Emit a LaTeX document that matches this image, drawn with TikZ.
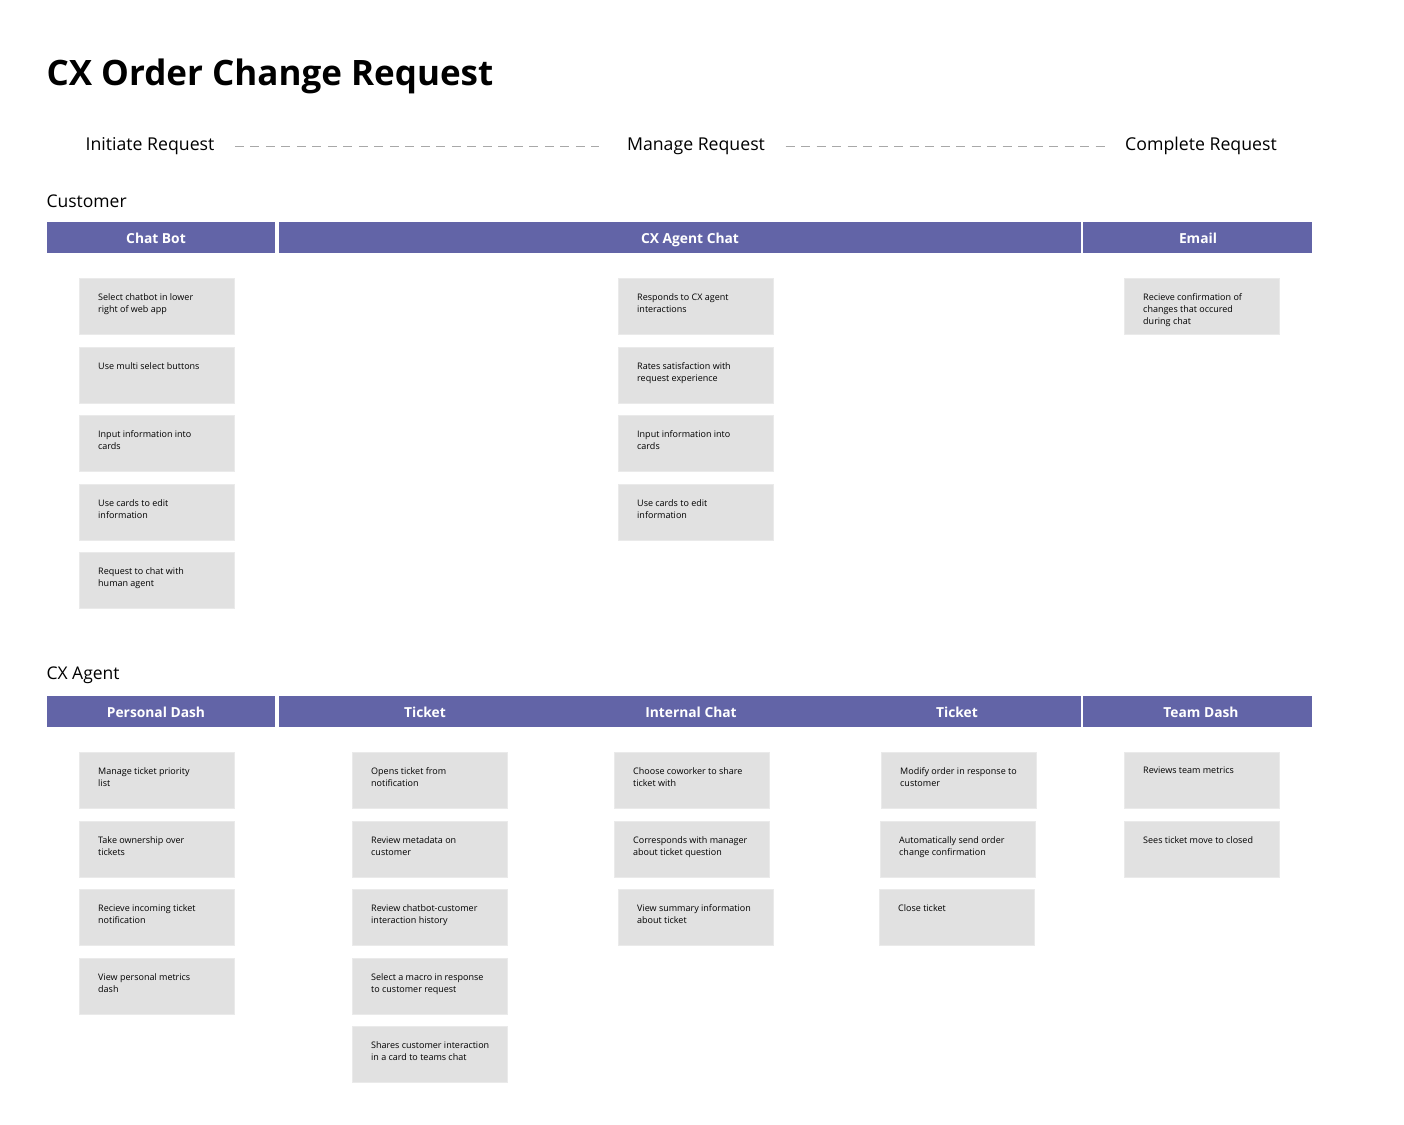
\documentclass[tikz,border=0pt]{standalone}
\usepackage{fontspec}
\setmainfont{Open Sans}
\usepackage{tikz}

\definecolor{barpurple}{HTML}{6264A7}
\definecolor{cardgray}{HTML}{E1E1E1}
\definecolor{cardedge}{HTML}{EAEAEA}
\definecolor{dashgray}{HTML}{A8A8A8}

\begin{document}
\begin{tikzpicture}[x=1pt, y=-1pt]
  \tikzset{bar/.style={fill=barpurple, anchor=north west, minimum height=31, inner sep=0},
           barlbl/.style={text=white, text height=10, text depth=3, font=\fontsize{13.8}{16}\selectfont\bfseries},
           card/.style={fill=cardgray, draw=cardedge, line width=0.8, anchor=north west, minimum width=155, minimum height=56, inner sep=0},
           cardtxt/.style={anchor=north west, xshift=19, yshift=-15, inner sep=0, align=left, font=\fontsize{9}{12.4}\selectfont},
           phase/.style={font=\fontsize{17.7}{22}\selectfont},
           lane/.style={anchor=west, font=\fontsize{17.5}{22}\selectfont},
           flow/.style={dashgray, line width=1, dash pattern=on 9 off 6.5}}
  \useasboundingbox (0,0) rectangle (1404,1124);

  \node[anchor=base west, font=\fontsize{35}{40}\selectfont\bfseries] (title) at (43,85) {CX Order Change Request};

  % phases of the request
  \node[phase] (initiate) at (150,146) {Initiate Request};
  \node[phase] (manage)   at (696,146) {Manage Request};
  \node[phase] (complete) at (1201,146) {Complete Request};
  \draw[flow] ([xshift=17]initiate.east) -- ([xshift=-24]manage.west);
  \draw[flow] ([xshift=17]manage.east) -- ([xshift=-16]complete.west);

  % customer lane
  \node[lane] (customer) at (43,201) {Customer};
  \node[bar, minimum width=228] (chatbot)   at (47,222)   {};
  \node[bar, minimum width=802] (agentchat) at (279,222)  {};
  \node[bar, minimum width=229] (email)     at (1083,222) {};
  \node[barlbl] (chatbotlbl)   at (156,240)  {Chat Bot};
  \node[barlbl] (agentchatlbl) at (690,240)  {CX Agent Chat};
  \node[barlbl] (emaillbl)     at (1198,240) {Email};

  \node[card, label={[cardtxt]north west:Select chatbot in lower\\right of web app}] (cb1) at (79,278) {};
  \node[card, label={[cardtxt]north west:Use multi select buttons}] (cb2) at (79,347) {};
  \node[card, label={[cardtxt]north west:Input information into\\cards}] (cb3) at (79,415) {};
  \node[card, label={[cardtxt]north west:Use cards to edit\\information}] (cb4) at (79,484) {};
  \node[card, label={[cardtxt]north west:Request to chat with\\human agent}] (cb5) at (79,552) {};

  \node[card, label={[cardtxt]north west:Responds to CX agent\\interactions}] (ac1) at (618,278) {};
  \node[card, label={[cardtxt]north west:Rates satisfaction with\\request experience}] (ac2) at (618,347) {};
  \node[card, label={[cardtxt]north west:Input information into\\cards}] (ac3) at (618,415) {};
  \node[card, label={[cardtxt]north west:Use cards to edit\\information}] (ac4) at (618,484) {};

  \node[card, label={[cardtxt]north west:Recieve confirmation of\\changes that occured\\during chat}] (em1) at (1124,278) {};

  % cx agent lane
  \node[lane] (cxagent) at (43,675) {CX Agent};
  \node[bar, minimum width=228] (pdash)    at (47,696)   {};
  \node[bar, minimum width=802] (agentmid) at (279,696)  {};
  \node[bar, minimum width=229] (tdash)    at (1083,696) {};
  \node[barlbl] (pdashlbl) at (156,714)  {Personal Dash};
  \node[barlbl] (ticketa)  at (425,714)  {Ticket};
  \node[barlbl] (internal) at (691,714)  {Internal Chat};
  \node[barlbl] (ticketb)  at (957,714)  {Ticket};
  \node[barlbl] (tdashlbl) at (1201,714) {Team Dash};

  \node[card, label={[cardtxt]north west:Manage ticket priority\\list}] (pd1) at (79,752) {};
  \node[card, label={[cardtxt]north west:Take ownership over\\tickets}] (pd2) at (79,821) {};
  \node[card, label={[cardtxt]north west:Recieve incoming ticket\\notification}] (pd3) at (79,889) {};
  \node[card, label={[cardtxt]north west:View personal metrics\\dash}] (pd4) at (79,958) {};

  \node[card, label={[cardtxt]north west:Opens ticket from\\notification}] (ta1) at (352,752) {};
  \node[card, label={[cardtxt]north west:Review metadata on\\customer}] (ta2) at (352,821) {};
  \node[card, label={[cardtxt]north west:Review chatbot-customer\\interaction history}] (ta3) at (352,889) {};
  \node[card, label={[cardtxt]north west:Select a macro in response\\to customer request}] (ta4) at (352,958) {};
  \node[card, label={[cardtxt]north west:Shares customer interaction\\in a card to teams chat}] (ta5) at (352,1026) {};

  \node[card, label={[cardtxt]north west:Choose coworker to share\\ticket with}] (ic1) at (614,752) {};
  \node[card, label={[cardtxt]north west:Corresponds with manager\\about ticket question}] (ic2) at (614,821) {};
  \node[card, label={[cardtxt]north west:View summary information\\about ticket}] (ic3) at (618,889) {};

  \node[card, label={[cardtxt]north west:Modify order in response to\\customer}] (tb1) at (881,752) {};
  \node[card, label={[cardtxt]north west:Automatically send order\\change confirmation}] (tb2) at (880,821) {};
  \node[card, label={[cardtxt]north west:Close ticket}] (tb3) at (879,889) {};

  \node[card, label={[cardtxt]north west:Reviews team metrics}] (td1) at (1124,752) {};
  \node[card, label={[cardtxt]north west:Sees ticket move to closed}] (td2) at (1124,821) {};
\end{tikzpicture}
\end{document}
